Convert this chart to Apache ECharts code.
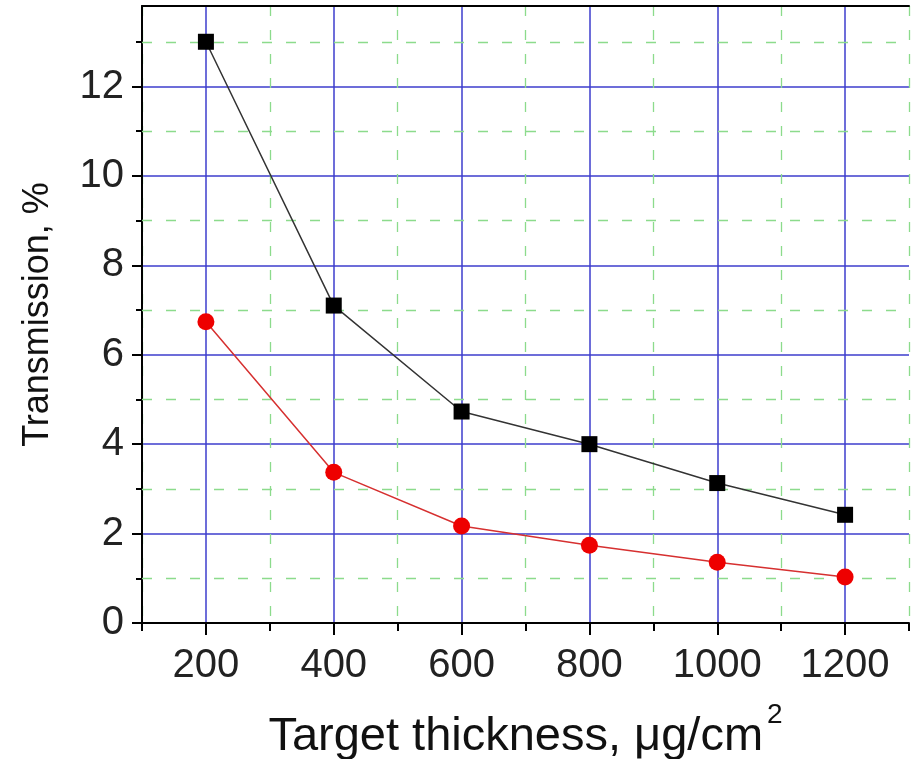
<!DOCTYPE html>
<html><head><meta charset="utf-8">
<script src="https://cdn.jsdelivr.net/npm/echarts@6/dist/echarts.min.js"></script>
<style>html,body{margin:0;padding:0;background:#fff}#c{width:914px;height:759px}</style>
</head><body><div id="c"></div>
<script>
const thickness = [200, 400, 600, 800, 1000, 1200];
const seriesBlack = [13.0, 7.1, 4.73, 4.0, 3.13, 2.42];
const seriesRed = [6.74, 3.37, 2.17, 1.74, 1.36, 1.03];
const xMajorTicks = [200, 400, 600, 800, 1000, 1200];
const yMajorTicks = [0, 2, 4, 6, 8, 10, 12];
const yMinorTicks = [1, 3, 5, 7, 9, 11, 13];

const blue = '#3c3ccc';
const green = '#8cdb8c';
const font = 'Liberation Sans, Arial, sans-serif';

const chart = echarts.init(document.getElementById('c'));
chart.setOption({
  animation: false,
  backgroundColor: '#fff',
  grid: {left: 142, right: 5, top: 6, bottom: 136, containLabel: false, outerBoundsMode: 'none'},
  xAxis: [
    {
      type: 'value', min: 100, max: 1300, interval: 100,
      axisLine: {show: true, lineStyle: {color: '#000', width: 2}},
      axisTick: {show: true, customValues: xMajorTicks, length: 12, inside: false, lineStyle: {color: '#000', width: 2}},
      axisLabel: {show: true, customValues: xMajorTicks, formatter: v => String(v), fontSize: 40, fontFamily: font, color: '#222', margin: 23},
      splitLine: {show: true, lineStyle: {color: blue, width: 1.5}},
      name: '{m|Target thickness, μg/cm}{s|2}',
      nameLocation: 'middle', nameGap: 78,
      nameTextStyle: {fontSize: 47, fontFamily: font, color: '#111',
        rich: {m: {fontSize: 47, fontFamily: font, color: '#111'},
               s: {fontSize: 28, fontFamily: font, color: '#111', verticalAlign: 'top', padding: [0, 0, 44, 4]}}}
    },
    {
      type: 'value', min: 100, max: 1300, interval: 200, position: 'bottom',
      axisLine: {show: false},
      axisTick: {show: true, length: 8, lineStyle: {color: '#000', width: 2}},
      axisLabel: {show: false},
      splitLine: {show: true, lineStyle: {color: green, width: 1.3, type: [10, 14]}}
    },
    {
      type: 'value', min: 100, max: 1300, position: 'top',
      axisLine: {show: true, onZero: false, lineStyle: {color: '#000', width: 2}},
      axisTick: {show: false}, axisLabel: {show: false}, splitLine: {show: false}
    }
  ],
  yAxis: [
    {
      type: 'value', min: 0, max: 13.8, interval: 2,
      axisLine: {show: true, lineStyle: {color: '#000', width: 2}},
      axisTick: {show: true, customValues: yMajorTicks, length: 10, lineStyle: {color: '#000', width: 2}},
      axisLabel: {show: true, customValues: yMajorTicks, fontSize: 40, fontFamily: font, color: '#222', margin: 18},
      splitLine: {show: true, lineStyle: {color: blue, width: 1.5}},
      name: 'Transmission, %', nameLocation: 'middle', nameGap: 86,
      nameTextStyle: {fontSize: 36, fontFamily: font, color: '#111'}
    },
    {
      type: 'value', min: 0, max: 13.8, interval: 1, position: 'left',
      axisLine: {show: false},
      axisTick: {show: true, customValues: yMinorTicks, length: 6, lineStyle: {color: '#000', width: 2}},
      axisLabel: {show: false},
      splitLine: {show: false}
    }
  ],
  series: [
    {
      type: 'line', xAxisIndex: 0, yAxisIndex: 0,
      data: thickness.map((x, i) => [x, seriesBlack[i]]),
      symbol: 'rect', symbolSize: 16,
      itemStyle: {color: '#000'},
      lineStyle: {color: '#333', width: 1.5}, z: 5
    },
    {
      type: 'line', xAxisIndex: 0, yAxisIndex: 0,
      data: thickness.map((x, i) => [x, seriesRed[i]]),
      symbol: 'circle', symbolSize: 17,
      itemStyle: {color: '#ee0000'},
      lineStyle: {color: '#d63030', width: 1.5}, z: 5
    },
    {
      type: 'line', xAxisIndex: 1, yAxisIndex: 1, data: [], silent: true,
      markLine: {
        silent: true, symbol: 'none', label: {show: false},
        lineStyle: {color: green, width: 1.3, type: [10, 14]},
        data: yMinorTicks.map(v => ({yAxis: v}))
      }
    }
  ]
});
</script>
</body></html>
